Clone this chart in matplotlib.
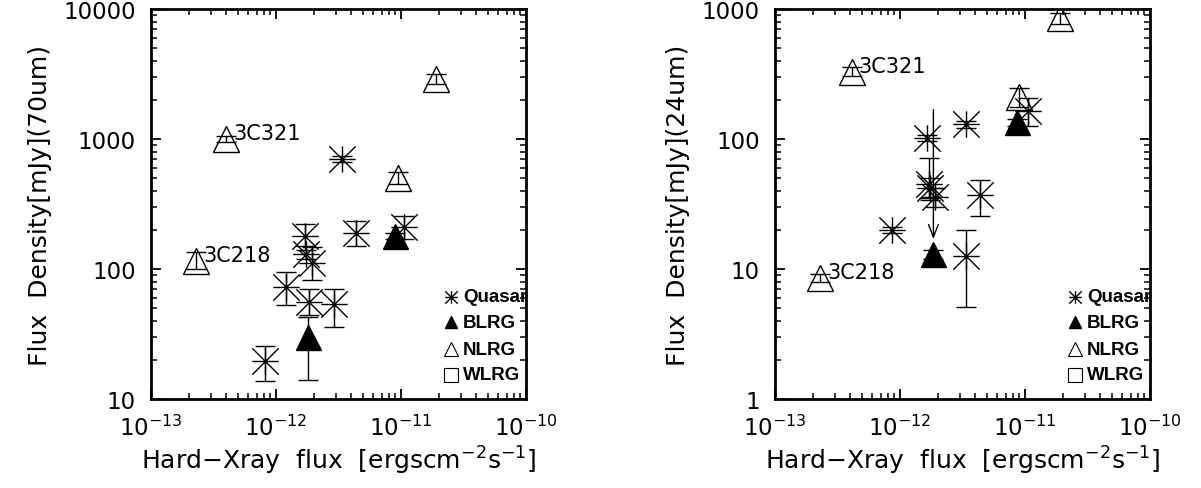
import numpy as np
import matplotlib
matplotlib.use('Agg')
import matplotlib.pyplot as plt
from matplotlib.path import Path
from matplotlib.ticker import FuncFormatter, LogLocator, NullFormatter

# ---- 70um panel ----
q70_x = [3.4e-12, 4.4e-12, 1.05e-11, 1.7e-12, 1.75e-12, 1.95e-12, 1.2e-12, 1.85e-12, 2.9e-12, 8.2e-13]
q70_y = [700, 190, 210, 180, 130, 112, 73, 56, 54, 19.5]
q70_lo = [40, 39, 40, 30, 10, 30, 20, 12, 18, 5.7]
q70_hi = [40, 45, 47, 42, 10, 36, 21, 14, 16, 6.2]

b70_x = [9e-12, 1.8e-12]
b70_y = [180, 30]
b70_lo = [10, 16]
b70_hi = [10, 13]

n70_x = [1.9e-11, 4e-13, 9.5e-12, 2.3e-13]
n70_y = [2900, 1000, 500, 115]
n70_lo = [250, 60, 50, 15]
n70_hi = [250, 60, 60, 20]

# ---- 24um panel ----
q24_x = [1.65e-12, 3.4e-12, 1.05e-11, 1.7e-12, 1.75e-12, 1.9e-12, 4.4e-12, 8.6e-13, 3.4e-12]
q24_y = [102, 130, 165, 45, 42, 36, 37, 20, 12.5]
q24_lo = [6, 8, 39, 10, 8, 6, 11.6, 1, 7.4]
q24_hi = [6, 8, 42, 26, 8, 6, 11.6, 1, 7.5]

b24_x = [8.6e-12, 1.85e-12]
b24_y = [135, 13]
b24_lo = [8, 1]
b24_hi = [8, 1]

n24_x = [1.9e-11, 4.1e-13, 9e-12, 2.3e-13]
n24_y = [850, 330, 210, 8.5]
n24_lo = [80, 25, 35, 0.6]
n24_hi = [80, 25, 35, 0.6]

lim24_x = [1.85e-12]
lim24_top = [168]
lim24_bot = [17]

labels = ['3C321', '3C218']
lab70_x = [4e-13, 2.3e-13]
lab70_y = [1000, 115]
lab24_x = [4.1e-13, 2.3e-13]
lab24_y = [330, 8.5]

xticks = [1e-13, 1e-12, 1e-11, 1e-10]
yticks70 = [10, 100, 1000, 10000]
yticks24 = [1, 10, 100, 1000]

legend_names = ['Quasar', 'BLRG', 'NLRG', 'WLRG']

# asterisk: plus + cross
star = Path([(-1, 0), (1, 0), (0, -1), (0, 1), (-1, -1), (1, 1), (-1, 1), (1, -1)],
            [Path.MOVETO, Path.LINETO] * 4)

plt.rcParams['font.family'] = 'DejaVu Sans'

fig = plt.figure(figsize=(12.01, 4.89), dpi=100)
ax1 = fig.add_axes([151 / 1201, 1 - 400 / 489, 375 / 1201, 390 / 489])
ax2 = fig.add_axes([775 / 1201, 1 - 400 / 489, 375 / 1201, 390 / 489])


def panel(ax, qx, qy, qe, bx, by, be, nx, ny, ne, ylim, yticks, ylabel, labx, laby):
    eb = dict(fmt='none', ecolor='k', elinewidth=1, capsize=7, capthick=1, zorder=2)
    ax.errorbar(qx, qy, yerr=qe, **eb)
    ax.errorbar(bx, by, yerr=be, **eb)
    ax.errorbar(nx, ny, yerr=ne, **eb)
    ax.plot(qx, qy, ls='none', marker=star, ms=19, mec='k', mfc='none', mew=1, zorder=3)
    ax.plot(bx, by, ls='none', marker='^', ms=18, mec='k', mfc='k', mew=1, zorder=3)
    ax.plot(nx, ny, ls='none', marker='^', ms=19, mec='k', mfc='none', mew=1, zorder=3)

    for t, x, y in zip(labels, labx, laby):
        ax.annotate(t, (x, y), xytext=(5, 0), textcoords='offset points',
                    fontsize=15, va='baseline', ha='left')

    ax.set_xscale('log')
    ax.set_yscale('log')
    ax.set_xlim(1e-13, 1e-10)
    ax.set_ylim(*ylim)
    ax.set_xticks(xticks)
    ax.set_yticks(yticks)
    ax.xaxis.set_minor_locator(LogLocator(base=10, subs=range(2, 10)))
    ax.yaxis.set_minor_locator(LogLocator(base=10, subs=range(2, 10)))
    ax.xaxis.set_minor_formatter(NullFormatter())
    ax.yaxis.set_minor_formatter(NullFormatter())
    ax.yaxis.set_major_formatter(FuncFormatter(lambda v, p: '%g' % v))
    ax.tick_params(which='both', direction='in', top=True, right=True, labelsize=16.5)
    ax.tick_params(which='major', length=7, width=1.3, pad=11)
    ax.tick_params(which='minor', length=4, width=1.1)
    for s in ax.spines.values():
        s.set_linewidth(2)
    ax.set_xlabel('Hard\u2212Xray  flux  [ergscm$^{-2}$s$^{-1}$]', fontsize=18, labelpad=3)
    ax.set_ylabel(ylabel, fontsize=18, labelpad=8)

    # hand-made legend, lower right
    ly = [0.262, 0.197, 0.128, 0.062]
    lx = 0.80
    ax.plot(lx, ly[0], transform=ax.transAxes, marker=star, ms=9, mec='k', mfc='none', mew=1)
    ax.plot(lx, ly[1], transform=ax.transAxes, marker='^', ms=9, mec='k', mfc='k', mew=1)
    ax.plot(lx, ly[2], transform=ax.transAxes, marker='^', ms=10, mec='k', mfc='none', mew=0.8)
    ax.plot(lx, ly[3], transform=ax.transAxes, marker='s', ms=10, mec='k', mfc='none', mew=0.8)
    for name, y in zip(legend_names, ly):
        ax.text(0.832, y, name, transform=ax.transAxes, fontsize=13.5, fontweight='bold',
                family='Liberation Sans', va='center', ha='left', clip_on=True)


panel(ax1, q70_x, q70_y, [q70_lo, q70_hi], b70_x, b70_y, [b70_lo, b70_hi],
      n70_x, n70_y, [n70_lo, n70_hi], (10, 10000), yticks70, 'Flux  Density[mJy](70um)',
      lab70_x, lab70_y)
panel(ax2, q24_x, q24_y, [q24_lo, q24_hi], b24_x, b24_y, [b24_lo, b24_hi],
      n24_x, n24_y, [n24_lo, n24_hi], (1, 1000), yticks24, 'Flux  Density[mJy](24um)',
      lab24_x, lab24_y)

# upper-limit arrow in the 24um panel
for x, t, b in zip(lim24_x, lim24_top, lim24_bot):
    ax2.annotate('', xy=(x, b), xytext=(x, t),
                 arrowprops=dict(arrowstyle='->,head_length=0.9,head_width=0.35',
                                 color='k', lw=1, shrinkA=0, shrinkB=0))

fig.savefig('out.png', dpi=100)
